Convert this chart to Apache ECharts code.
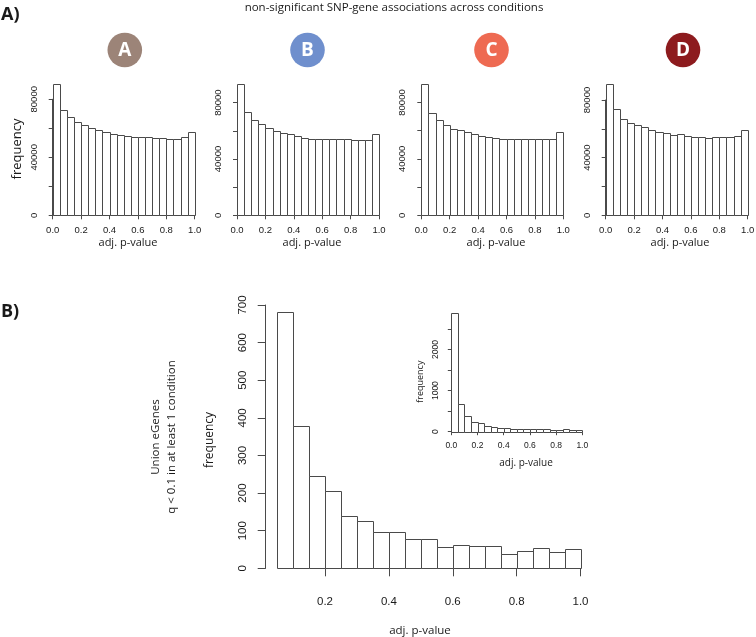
<!DOCTYPE html>
<html><head><meta charset="utf-8">
<script src="https://cdn.jsdelivr.net/npm/echarts@6.0.0/dist/echarts.min.js"></script>
<style>html,body{margin:0;padding:0;background:#fff}#c{width:756px;height:637px}</style>
</head><body><div id="c"></div>
<script>
// ---- data ----
const binEdges = [0, 0.05, 0.1, 0.15, 0.2, 0.25, 0.3, 0.35, 0.4, 0.45, 0.5, 0.55, 0.6, 0.65, 0.7, 0.75, 0.8, 0.85, 0.9, 0.95, 1.0];
const conditions = ['A', 'B', 'C', 'D'];
const countsA = [90300, 72500, 67500, 64000, 62000, 60000, 58500, 57200, 55800, 55300, 54600, 54200, 53700, 53700, 53500, 53000, 52500, 52500, 54200, 57600];
const countsB = [93000, 73100, 67700, 64600, 62000, 60100, 58200, 57400, 56300, 54600, 53900, 53900, 54100, 54400, 53900, 53900, 53200, 53400, 53200, 57400];
const countsC = [92900, 72300, 67300, 63800, 61200, 60200, 58800, 57400, 55900, 55700, 54800, 54000, 54000, 54000, 53800, 53800, 54300, 54300, 53800, 58800];
const countsD = [90900, 73500, 66600, 63800, 62400, 61000, 59100, 58000, 56800, 55400, 56100, 55000, 54000, 54000, 53300, 54000, 54000, 54300, 55000, 59100];
const unionCounts = [682, 378, 246, 205, 139, 125, 96, 96, 77, 77, 57, 62, 58, 58, 39, 47, 54, 43, 51]; // bins 0.05..1.0
const unionFirstBin = 2900; // bin 0..0.05 (inset only)
const xTicksA = [0, 0.2, 0.4, 0.6, 0.8, 1.0];
const yTicksA = [0, 40000, 80000];
const yTicksMain = [0, 100, 200, 300, 400, 500, 600, 700];
const yTicksInset = [0, 1000, 2000];

const panelCounts = [countsA, countsB, countsC, countsD];
const badgeColors = ['#9c8478', '#6f8fcd', '#ee6a52', '#8d1b1e'];

function toBins(edges, counts) {
  return counts.map((c, i) => [edges[i], edges[i + 1], c]);
}
const LINE = '#4a4a4a';
const TXT = '#1a1a1a';
const SANS = '"Liberation Sans", Arial, sans-serif';
const OPEN = '"Open Sans", sans-serif';

function histItem(params, api) {
  const p0 = api.coord([api.value(0), 0]);
  const p1 = api.coord([api.value(1), api.value(2)]);
  return {
    type: 'rect',
    shape: { x: Math.round(p0[0]) + 0.5, y: Math.round(p1[1]) + 0.5, width: Math.round(p1[0]) - Math.round(p0[0]), height: Math.round(p0[1]) - Math.round(p1[1]) },
    style: { fill: '#fff', stroke: LINE, lineWidth: 1 }
  };
}

const grids = [], xAxes = [], yAxes = [], series = [], graphics = [];

// ---- panel A: four histograms ----
const plotTop = 84.3, plotBottom = 215.3, plotW = 142;
const lefts = [52.7, 237, 421.3, 605.7];
const badgeX = [124.8, 307.5, 491.5, 683];
const nameX = [128, 312, 496, 680];
panelCounts.forEach((counts, i) => {
  const mx = Math.max(...counts);
  const top = plotBottom - (plotBottom - plotTop) * yTicksA[yTicksA.length - 1] / mx;
  grids.push({ left: lefts[i], top: top, width: plotW, height: plotBottom - top, outerBoundsMode: 'none', containLabel: false });
  xAxes.push({
    gridIndex: i, type: 'value', min: 0, max: 1, interval: 0.2, offset: 5,
    axisLine: { lineStyle: { color: LINE, width: 1 } },
    axisTick: { length: 4, lineStyle: { color: LINE } },
    axisLabel: { fontSize: 9.5, color: TXT, fontFamily: SANS, margin: 5, formatter: v => v.toFixed(1) },
    splitLine: { show: false }
  });
  yAxes.push({
    gridIndex: i, type: 'value', min: 0, max: 80000, interval: 20000, offset: 4.5,
    axisLine: { show: true, lineStyle: { color: LINE, width: 1 } },
    axisTick: { show: true, length: 4, lineStyle: { color: LINE } },
    axisLabel: { fontSize: 9.5, color: TXT, fontFamily: SANS, rotate: 90, margin: 9,
      formatter: v => (yTicksA.indexOf(v) >= 0 ? String(v) : '') },
    splitLine: { show: false }
  });
  series.push({ type: 'custom', xAxisIndex: i, yAxisIndex: i, clip: false, renderItem: histItem,
    data: toBins(binEdges, counts), silent: true });
  graphics.push({ type: 'circle', shape: { cx: badgeX[i], cy: 50, r: 17.3 }, style: { fill: badgeColors[i] } });
  graphics.push({ type: 'text', x: badgeX[i], y: 50.5, style: { text: conditions[i], fill: '#fff', font: 'bold 19px ' + OPEN, align: 'center', verticalAlign: 'middle' } });
  graphics.push({ type: 'text', x: nameX[i], y: 242.7, style: { text: 'adj. p-value', fill: TXT, font: '11px ' + OPEN, align: 'center', verticalAlign: 'middle' } });
});

// ---- panel B main ----
grids.push({ left: 325, top: 305, width: 255.5, height: 263.3, outerBoundsMode: 'none', containLabel: false });
xAxes.push({
  gridIndex: 4, type: 'value', min: 0.2, max: 1.0, interval: 0.2, offset: 10,
  axisLine: { lineStyle: { color: LINE } },
  axisTick: { length: 8, lineStyle: { color: LINE } },
  axisLabel: { fontSize: 11.5, color: TXT, fontFamily: SANS, margin: 18, formatter: v => v.toFixed(1) },
  splitLine: { show: false }
});
yAxes.push({
  gridIndex: 4, type: 'value', min: 0, max: 700, interval: 100, offset: 59.3,
  axisLine: { show: true, lineStyle: { color: LINE } },
  axisTick: { show: true, length: 8, lineStyle: { color: LINE } },
  axisLabel: { fontSize: 11.5, color: TXT, fontFamily: SANS, rotate: 90, margin: 17,
    formatter: v => (yTicksMain.indexOf(v) >= 0 ? String(v) : '') },
  splitLine: { show: false }
});
series.push({ type: 'custom', xAxisIndex: 4, yAxisIndex: 4, clip: false, renderItem: histItem,
  data: toBins(binEdges.slice(1), unionCounts), silent: true });

// ---- panel B inset ----
grids.push({ left: 451.3, top: 329, width: 131, height: 102.7, outerBoundsMode: 'none', containLabel: false });
xAxes.push({
  gridIndex: 5, type: 'value', min: 0, max: 1, interval: 0.2, offset: 5,
  axisLine: { lineStyle: { color: LINE } },
  axisTick: { length: 3.5, lineStyle: { color: LINE } },
  axisLabel: { fontSize: 8.5, color: TXT, fontFamily: SANS, margin: 4.5, formatter: v => v.toFixed(1) },
  splitLine: { show: false }
});
yAxes.push({
  gridIndex: 5, type: 'value', min: 0, max: 2500, interval: 500, offset: 4.6,
  axisLine: { show: true, lineStyle: { color: LINE } },
  axisTick: { show: true, length: 3.5, lineStyle: { color: LINE } },
  axisLabel: { fontSize: 8.5, color: TXT, fontFamily: SANS, rotate: 90, margin: 7,
    formatter: v => (yTicksInset.indexOf(v) >= 0 ? String(v) : '') },
  splitLine: { show: false }
});
series.push({ type: 'custom', xAxisIndex: 5, yAxisIndex: 5, clip: false, renderItem: histItem,
  data: toBins(binEdges, [unionFirstBin].concat(unionCounts)), silent: true });

// ---- texts ----
function txt(text, x, y, font, rot, align) {
  return { type: 'text', x: x, y: y, rotation: rot || 0,
    style: { text: text, fill: TXT, font: font, align: align || 'center', verticalAlign: 'middle' } };
}
graphics.push(txt('non-significant SNP-gene associations across conditions', 394, 8, '11.5px ' + OPEN));
graphics.push(txt('A)', 1, 15, 'bold 18px ' + OPEN, 0, 'left'));
graphics.push(txt('B)', 1, 312, 'bold 18px ' + OPEN, 0, 'left'));
graphics.push(txt('frequency', 17, 149, '13px ' + OPEN, Math.PI / 2));
graphics.push(txt('frequency', 210, 440, '12px ' + OPEN, Math.PI / 2));
graphics.push(txt('Union eGenes', 156, 437, '11.5px ' + OPEN, Math.PI / 2));
graphics.push(txt('q < 0.1 in at least 1 condition', 171.7, 437, '11.5px ' + OPEN, Math.PI / 2));
graphics.push(txt('adj. p-value', 420, 631, '11.5px ' + OPEN));
graphics.push(txt('frequency', 420, 381.7, '9px ' + OPEN, Math.PI / 2));
graphics.push(txt('adj. p-value', 526, 463.3, '10px ' + OPEN));

const chart = echarts.init(document.getElementById('c'), null, { renderer: 'canvas' });
chart.setOption({
  animation: false,
  backgroundColor: '#fff',
  grid: grids, xAxis: xAxes, yAxis: yAxes, series: series,
  graphic: graphics
});
</script></body></html>
